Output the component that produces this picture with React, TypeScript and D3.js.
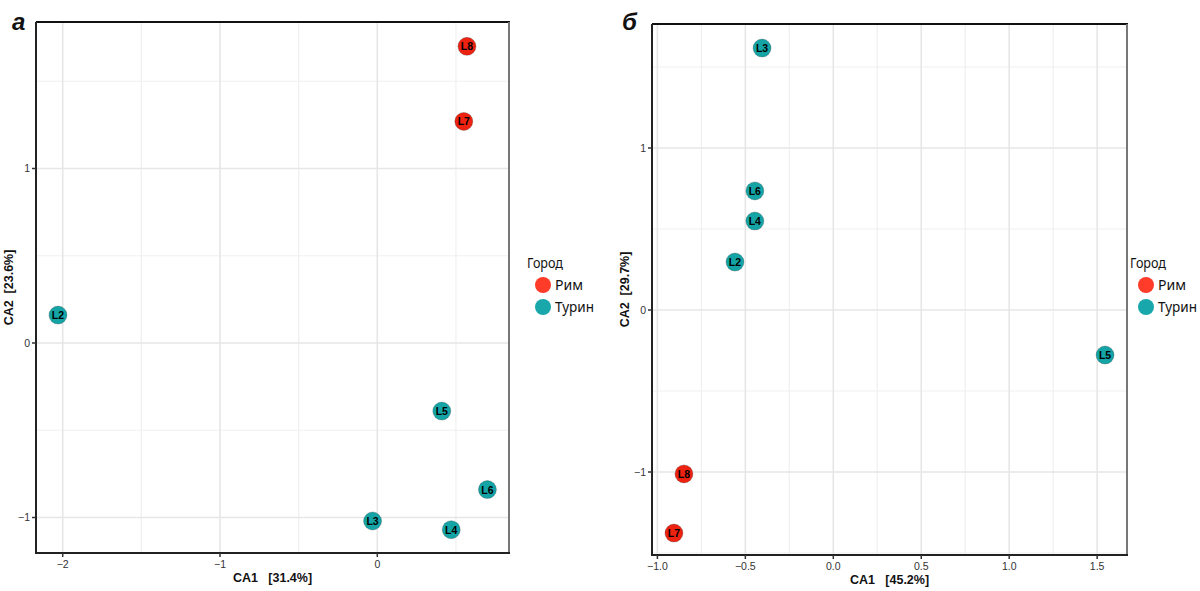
import React from "react";
import * as d3 from "d3";

// Panel а data
const labelsA = ["L8", "L7", "L2", "L5", "L6", "L3", "L4"];
const ca1A = [0.57, 0.55, -2.03, 0.41, 0.70, -0.03, 0.47];
const ca2A = [1.70, 1.27, 0.16, -0.39, -0.84, -1.02, -1.07];
const cityA = ["Рим", "Рим", "Турин", "Турин", "Турин", "Турин", "Турин"];

// Panel б data
const labelsB = ["L3", "L6", "L4", "L2", "L5", "L8", "L7"];
const ca1B = [-0.405, -0.446, -0.446, -0.559, 1.545, -0.849, -0.906];
const ca2B = [1.617, 0.735, 0.549, 0.296, -0.278, -1.012, -1.377];
const cityB = ["Турин", "Турин", "Турин", "Турин", "Турин", "Рим", "Рим"];

const xTicksA = [-2, -1, 0];
const yTicksA = [-1, 0, 1];
const xTicksB = [-1.0, -0.5, 0.0, 0.5, 1.0, 1.5];
const yTicksB = [-1, 0, 1];

const legendTitle = "Город";
const cities = ["Рим", "Турин"];
const colors: Record<string, string> = { "Рим": "#EE2211", "Турин": "#14A4A6" };
const legendColors: Record<string, string> = { "Рим": "#FF3B2A", "Турин": "#18A7AB" };

type PanelProps = {
  letter: string;
  left: number; right: number; top: number; bottom: number;
  xDomain: [number, number]; yDomain: [number, number];
  xTicks: number[]; yTicks: number[];
  xMinor: number[]; yMinor: number[];
  xFmt: (v: number) => string;
  xTitle: string; yTitle: string;
  labels: string[]; xs: number[]; ys: number[]; city: string[];
  legendX: number;
  letterX: number;
};

function Panel(p: PanelProps) {
  const x = d3.scaleLinear().domain(p.xDomain).range([p.left, p.right]);
  const y = d3.scaleLinear().domain(p.yDomain).range([p.bottom, p.top]);
  const font = "Liberation Sans, Arial, sans-serif";
  const lfont = "Noto Sans, DejaVu Sans, sans-serif";
  const grid = "#E6E6E6";
  const minorGrid = "#F0F0F0";
  const legendWidths: Record<string, number> = { "Рим": 28, "Турин": 39 };
  return (
    <g>
      <rect x={p.left} y={p.top} width={p.right - p.left} height={p.bottom - p.top} fill="#fff" />
      {p.xMinor.map((v) => (
        <line key={"xm" + v} x1={x(v)} x2={x(v)} y1={p.top} y2={p.bottom} stroke={minorGrid} strokeWidth={1.2} />
      ))}
      {p.yMinor.map((v) => (
        <line key={"ym" + v} y1={y(v)} y2={y(v)} x1={p.left} x2={p.right} stroke={minorGrid} strokeWidth={1.2} />
      ))}
      {p.xTicks.map((v) => (
        <line key={"xg" + v} x1={x(v)} x2={x(v)} y1={p.top} y2={p.bottom} stroke={grid} strokeWidth={1.6} />
      ))}
      {p.yTicks.map((v) => (
        <line key={"yg" + v} y1={y(v)} y2={y(v)} x1={p.left} x2={p.right} stroke={grid} strokeWidth={1.6} />
      ))}
      {/* frame */}
      <line x1={p.left} x2={p.right + 1} y1={p.top} y2={p.top} stroke="#111" strokeWidth={2} />
      <line x1={p.right} x2={p.right} y1={p.top} y2={p.bottom} stroke="#777" strokeWidth={2} />
      <line x1={p.left} x2={p.left} y1={p.top} y2={p.bottom + 1} stroke="#222" strokeWidth={2} />
      <line x1={p.left - 1} x2={p.right + 1} y1={p.bottom} y2={p.bottom} stroke="#222" strokeWidth={2} />
      {/* ticks */}
      {p.xTicks.map((v) => (
        <g key={"xt" + v}>
          <line x1={x(v)} x2={x(v)} y1={p.bottom} y2={p.bottom + 4} stroke="#333" strokeWidth={1.5} />
          <text x={x(v)} y={p.bottom + 15} textAnchor="middle" fontSize={10.5} fontFamily={font} fill="#333">
            {p.xFmt(v)}
          </text>
        </g>
      ))}
      {p.yTicks.map((v) => (
        <g key={"yt" + v}>
          <line x1={p.left - 4} x2={p.left} y1={y(v)} y2={y(v)} stroke="#333" strokeWidth={1.5} />
          <text x={p.left - 6} y={y(v) + 3.5} textAnchor="end" fontSize={10.5} fontFamily={font} fill="#333">
            {v === 0 ? "0" : v < 0 ? "\u2212" + Math.abs(v) : String(v)}
          </text>
        </g>
      ))}
      <text x={(p.left + p.right) / 2} y={p.bottom + 29} textAnchor="middle" fontSize={12.5} fontWeight="bold" fontFamily={font} fill="#111" xmlSpace="preserve">
        {p.xTitle}
      </text>
      <text transform={`translate(${p.left - 23},${(p.top + p.bottom) / 2}) rotate(-90)`} textAnchor="middle" fontSize={12.5} fontWeight="bold" fontFamily={font} fill="#111" xmlSpace="preserve">
        {p.yTitle}
      </text>
      {/* points */}
      {p.labels.map((l, i) => (
        <g key={l}>
          <circle cx={x(p.xs[i])} cy={y(p.ys[i])} r={9} fill={colors[p.city[i]]} stroke="#333" strokeOpacity={0.35} strokeWidth={0.8} />
          <text x={x(p.xs[i])} y={y(p.ys[i]) + 4} textAnchor="middle" fontSize={10.5} fontWeight="bold" fontFamily={font} fill="#000">
            {l}
          </text>
        </g>
      ))}
      {/* legend */}
      <text x={p.legendX} y={268} fontSize={15} fontFamily={lfont} fill="#111" textLength={36} lengthAdjust="spacingAndGlyphs">{legendTitle}</text>
      {cities.map((c, i) => (
        <g key={c}>
          <circle cx={p.legendX + 16} cy={285 + i * 22} r={8} fill={legendColors[c]} />
          <text x={p.legendX + 28} y={290 + i * 22} fontSize={15} fontFamily={lfont} fill="#111" textLength={legendWidths[c]} lengthAdjust="spacingAndGlyphs">{c}</text>
        </g>
      ))}
      <text x={p.letterX} y={30} fontSize={24} fontWeight="bold" fontStyle="italic" fontFamily={font} fill="#111">
        {p.letter}
      </text>
    </g>
  );
}

export default function App() {
  const fmtInt = (v: number) => (v === 0 ? "0" : v < 0 ? "\u2212" + Math.abs(v) : String(v));
  const fmt1 = (v: number) => (v < 0 ? "\u2212" + Math.abs(v).toFixed(1) : v.toFixed(1));
  return (
    <svg width={1200} height={591} style={{ display: "block", position: "absolute", left: 0, top: 0, background: "#fff" }}>
      <rect width={1200} height={591} fill="#fff" />
      <Panel
        letter="а" letterX={12}
        left={36} right={509} top={22} bottom={553}
        xDomain={[(36 - 377.3) / 157.3, (509 - 377.3) / 157.3]}
        yDomain={[(343 - 553) / 174.5, (343 - 22) / 174.5]}
        xTicks={xTicksA} yTicks={yTicksA}
        xMinor={[-1.5, -0.5, 0.5]} yMinor={[-0.5, 0.5, 1.5]}
        xFmt={fmtInt}
        xTitle="CA1   [31.4%]" yTitle="CA2  [23.6%]"
        labels={labelsA} xs={ca1A} ys={ca2A} city={cityA}
        legendX={527}
      />
      <Panel
        letter="б" letterX={622}
        left={652} right={1127} top={24} bottom={555}
        xDomain={[(652 - 833.3) / 175.9, (1127 - 833.3) / 175.9]}
        yDomain={[(310 - 555) / 162, (310 - 24) / 162]}
        xTicks={xTicksB} yTicks={yTicksB}
        xMinor={[-0.75, -0.25, 0.25, 0.75, 1.25]} yMinor={[-1.5, -0.5, 0.5, 1.5]}
        xFmt={fmt1}
        xTitle="CA1   [45.2%]" yTitle="CA2  [29.7%]"
        labels={labelsB} xs={ca1B} ys={ca2B} city={cityB}
        legendX={1130}
      />
    </svg>
  );
}
